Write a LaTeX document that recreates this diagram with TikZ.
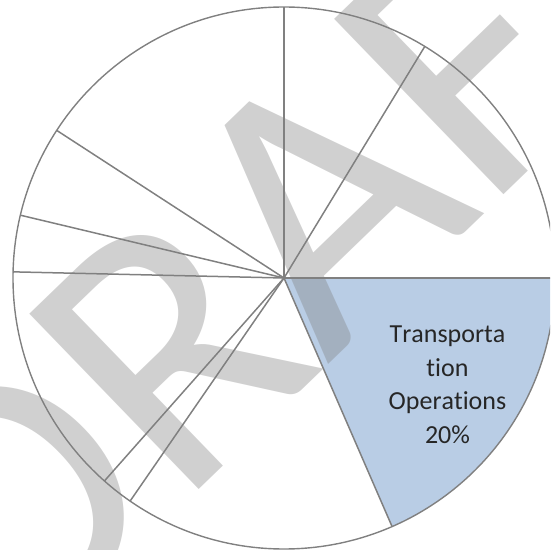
\documentclass[tikz,border=0pt]{standalone}
\usepackage{fontspec}
\setmainfont{Carlito}[Ligatures={NoCommon},Kerning=Off]
\usetikzlibrary{calc}
\definecolor{sectorblue}{HTML}{B9CDE5}
\definecolor{linegray}{HTML}{808080}
\begin{document}
\begin{tikzpicture}[x=1pt,y=1pt,
  spoke/.style={draw=linegray,line width=1.5pt},
  rim/.style={draw=linegray,line width=1.4pt},
  lbl/.style={anchor=base,inner sep=0pt,text=black!85,font=\fontsize{26}{33.5}\selectfont},
  wmark/.style={text=linegray,text opacity=0.37,inner sep=0pt,rotate=44,font=\fontsize{380}{380}\selectfont}]
\useasboundingbox (0,0) rectangle (550,550);
\clip (0,0) rectangle (550,550);
\coordinate (c) at (284,272);
\def\R{271}
% blue sector
\fill[sectorblue] (c) -- ($(c)+(0:\R)$) arc[start angle=0,end angle=-66.5,radius=\R] -- cycle;
% watermark
\node[wmark] (wm) at (293,321) {DRAFT};
% rim and spokes
\draw[rim] (c) circle[radius=\R];
\foreach \a/\n in {90/s1,58.7/s2,0/s3,-66.5/s4,235.4/s5,228.5/s6,178.7/s7,166.6/s8,147.0/s9}{
  \coordinate (\n) at ($(c)+(\a:\R)$);
  \draw[spoke] (c) -- (\n);
}
% label
\node[lbl] (l1) at (447.5,207.1) {Transporta};
\node[lbl] (l2) at (447.5,173.7) {tion};
\node[lbl] (l3) at (447.5,140.3) {Operations};
\node[lbl] (l4) at (447.5,106.8) {20\%};
\end{tikzpicture}
\end{document}
